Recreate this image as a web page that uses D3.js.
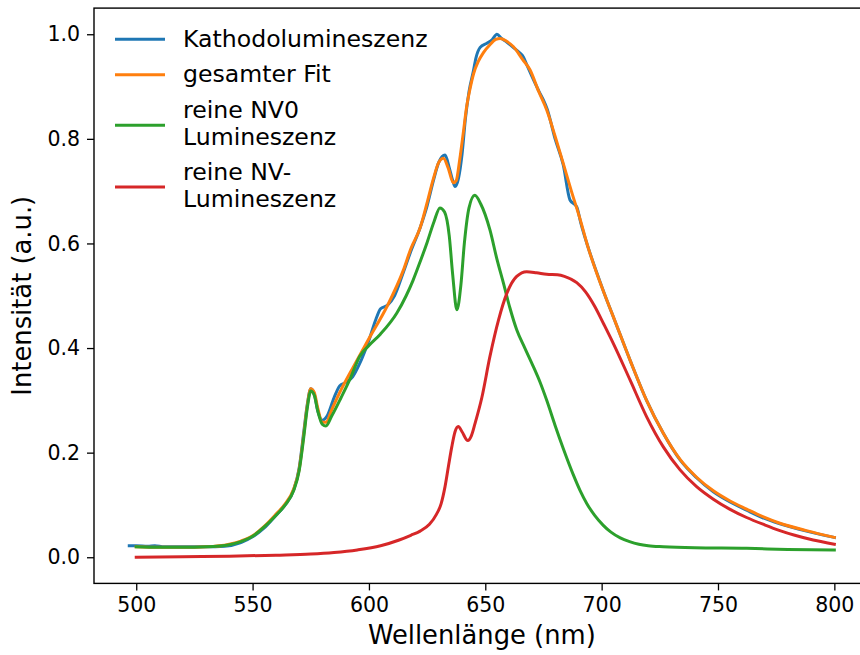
<!DOCTYPE html>
<html>
<head>
<meta charset="utf-8">
<script src="https://cdn.jsdelivr.net/npm/d3@7"></script>
<style>
  html, body { margin: 0; padding: 0; background: #fff; }
  svg { display: block; font-family: "DejaVu Sans", sans-serif; }
</style>
</head>
<body>
<svg id="chart" width="860" height="655"></svg>
<script>
// ---------- DATA ----------
const xTicks = [500, 550, 600, 650, 700, 750, 800];
const yTicks = [0.0, 0.2, 0.4, 0.6, 0.8, 1.0];
const seriesNames = ["Kathodolumineszenz", "gesamter Fit", "reine NV0\nLumineszenz", "reine NV-\nLumineszenz"];

// Kathodolumineszenz (measured data) [nm, intensity]
const kathodo = [
  [497,0.022],[500,0.022],[505,0.021],[508,0.022],[512,0.020],[520,0.020],[530,0.020],[538,0.021],
  [545,0.028],[550,0.039],[555,0.056],[560,0.080],[564,0.100],[567.6,0.128],[570,0.170],[572,0.240],
  [573.5,0.292],[575,0.322],[576.5,0.312],[578,0.280],[580,0.262],[582,0.270],[585,0.305],[587.5,0.328],
  [590,0.334],[593,0.345],[596,0.370],[600,0.415],[603,0.455],[605,0.475],[608,0.482],[611,0.500],
  [614.8,0.545],[618,0.585],[622,0.630],[625,0.672],[627.7,0.720],[630,0.755],[632.7,0.769],[634.5,0.745],
  [636,0.720],[637,0.709],[638.5,0.725],[640,0.770],[641.5,0.840],[643,0.890],[644.9,0.930],[646,0.955],
  [647.8,0.975],[650.7,0.983],[653,0.990],[655,1.000],[657,0.992],[659.2,0.985],[662,0.975],[664.9,0.964],
  [666.3,0.957],[668,0.940],[670,0.920],[673.5,0.887],[675,0.874],[676.5,0.858],[680,0.800],[683.5,0.750],
  [686.4,0.683],[689.3,0.670],[691,0.640],[694,0.595],[698,0.543],[701.5,0.500],[705,0.460],[712.2,0.377],
  [719.3,0.300],[726.5,0.237],[733.7,0.186],[740.8,0.152],[748,0.125],[755,0.106],[762.3,0.090],
  [769,0.076],[776.6,0.064],[788,0.050],[800,0.038]
];

// gesamter Fit
const fit = [
  [500,0.020],[510,0.019],[520,0.019],[530,0.020],[540,0.025],[545,0.031],[550,0.041],[555,0.059],
  [560,0.082],[564,0.102],[567.6,0.130],[570,0.168],[572,0.235],[573.5,0.290],[575,0.322],[576.5,0.315],
  [578,0.285],[580,0.258],[581.5,0.258],[584,0.282],[588,0.320],[593.3,0.364],[600.5,0.422],[607.7,0.479],
  [614.8,0.549],[618,0.590],[622,0.630],[625,0.678],[627.7,0.724],[630,0.755],[632,0.763],[634,0.745],
  [636.3,0.716],[637.5,0.720],[639,0.760],[640.5,0.810],[642,0.862],[643.5,0.897],[645,0.925],[647,0.948],
  [649.2,0.965],[652,0.980],[654.5,0.990],[656.4,0.992],[659,0.987],[662.1,0.976],[666,0.952],[669.2,0.932],
  [673,0.890],[676.4,0.855],[680,0.805],[683.5,0.753],[687,0.700],[690.7,0.647],[694,0.595],[697.9,0.543],
  [701.5,0.500],[705,0.460],[712.2,0.377],[719.3,0.300],[726.5,0.237],[733.7,0.187],[740.8,0.153],
  [748,0.127],[755,0.108],[762.3,0.092],[769,0.078],[776.6,0.065],[788,0.051],[800,0.038]
];

// reine NV0 Lumineszenz
const nv0 = [
  [500,0.020],[510,0.019],[520,0.019],[530,0.020],[540,0.024],[545,0.030],[550,0.040],[555,0.058],
  [560,0.080],[564,0.100],[567.6,0.127],[570,0.165],[572,0.230],[573.5,0.285],[575,0.318],[576.5,0.310],
  [578,0.280],[580,0.254],[581.5,0.251],[584,0.270],[588,0.305],[592,0.342],[596,0.384],[600,0.405],
  [605,0.427],[612,0.467],[616,0.500],[619,0.530],[622,0.565],[625,0.602],[628,0.642],[630.5,0.668],
  [632.5,0.660],[634.5,0.615],[636,0.540],[637.8,0.473],[639.5,0.520],[641,0.600],[643,0.668],[645.5,0.692],
  [648,0.676],[652,0.626],[655,0.570],[657.8,0.524],[660.5,0.478],[663.5,0.435],[667,0.400],[670.7,0.364],
  [673.5,0.335],[676.4,0.300],[680,0.252],[683.5,0.208],[687.8,0.158],[690.7,0.128],[693.6,0.103],
  [697,0.080],[700.7,0.061],[704,0.048],[708,0.037],[712,0.030],[716,0.025],[720,0.022],[726.5,0.020],
  [740,0.018],[762.3,0.017],[780,0.015],[800,0.014]
];

// reine NV- Lumineszenz
const nvm = [
  [500,0.000],[520,0.001],[540,0.002],[560,0.004],[575,0.006],[585,0.009],[595,0.014],[605,0.022],
  [613,0.033],[618,0.042],[622,0.050],[626,0.063],[629,0.082],[631,0.102],[632.7,0.135],[634.2,0.175],
  [635.6,0.211],[637,0.240],[638.4,0.250],[640,0.240],[642.5,0.223],[644,0.232],[645.6,0.256],[648.5,0.305],
  [652,0.384],[655.7,0.454],[659.3,0.505],[663.5,0.537],[667.8,0.546],[672,0.544],[676.4,0.541],[681,0.540],
  [684,0.537],[689.3,0.525],[693,0.508],[697,0.480],[701,0.445],[705,0.409],[712.2,0.339],[719.3,0.269],
  [726.5,0.211],[733.7,0.167],[740.8,0.135],[748,0.111],[755,0.092],[762.3,0.076],[770,0.062],
  [776.6,0.051],[783,0.042],[790.9,0.033],[800,0.025]
];

const colors = ["#1f77b4", "#ff7f0e", "#2ca02c", "#d62728"];
const seriesData = [kathodo, fit, nv0, nvm];

// ---------- CHART ----------
(function () {
const svg = d3.select("#chart");
const pLeft = 94, pRight = 869.6, pTop = 8.1, pBottom = 583.4;

const x = d3.scaleLinear().domain([481.85, 815.15]).range([pLeft, pRight]);
const y = d3.scaleLinear().domain([-0.05, 1.05]).range([pBottom, pTop]);

svg.append("defs").append("clipPath").attr("id", "clip")
  .append("rect").attr("x", pLeft).attr("y", pTop).attr("width", pRight - pLeft).attr("height", pBottom - pTop);

const line = d3.line()
  .x(d => x(d[0]))
  .y(d => y(d[1]))
  .curve(d3.curveMonotoneX);

const plot = svg.append("g").attr("clip-path", "url(#clip)");
seriesData.forEach((s, i) => {
  plot.append("path")
    .datum(s)
    .attr("d", line)
    .attr("fill", "none")
    .attr("stroke", colors[i])
    .attr("stroke-width", 3)
    .attr("stroke-linejoin", "round")
    .attr("stroke-linecap", "square");
});

// axes
const xAxis = d3.axisBottom(x).tickValues(xTicks).tickSize(7).tickPadding(7).tickFormat(d3.format("d"));
const yAxis = d3.axisLeft(y).tickValues(yTicks).tickSize(7).tickPadding(7).tickFormat(d3.format(".1f"));

const gx = svg.append("g").attr("transform", `translate(0,${pBottom})`).call(xAxis);
const gy = svg.append("g").attr("transform", `translate(${pLeft},0)`).call(yAxis);
[gx, gy].forEach(g => {
  g.select(".domain").remove();
  g.selectAll(".tick line").attr("stroke", "#000").attr("stroke-width", 1.3);
  g.selectAll(".tick text").attr("fill", "#000").style("font-size", "20.5px").style("font-family", "DejaVu Sans");
});

// spines
svg.append("rect")
  .attr("x", pLeft).attr("y", pTop)
  .attr("width", pRight - pLeft).attr("height", pBottom - pTop)
  .attr("fill", "none").attr("stroke", "#000").attr("stroke-width", 1.4);

// axis labels
svg.append("text")
  .attr("x", (pLeft + pRight) / 2).attr("y", 644)
  .attr("text-anchor", "middle")
  .style("font-size", "25.8px")
  .attr("fill", "#000")
  .text("Wellenlänge (nm)");

svg.append("text")
  .attr("transform", `translate(30.5,${(pTop + pBottom) / 2}) rotate(-90)`)
  .attr("text-anchor", "middle")
  .style("font-size", "25.8px")
  .attr("fill", "#000")
  .text("Intensität (a.u.)");

// legend
const legendRows = [
  { lineY: 39.3, baselines: [47.3] },
  { lineY: 74.7, baselines: [82.3] },
  { lineY: 125.3, baselines: [118.3, 145.0] },
  { lineY: 187.0, baselines: [180.0, 206.7] }
];
const lg = svg.append("g");
seriesNames.forEach((name, i) => {
  const r = legendRows[i];
  lg.append("line")
    .attr("x1", 115).attr("x2", 165)
    .attr("y1", r.lineY).attr("y2", r.lineY)
    .attr("stroke", colors[i]).attr("stroke-width", 3);
  name.split("\n").forEach((t, k) => {
    lg.append("text")
      .attr("x", 183).attr("y", r.baselines[k])
      .style("font-size", "23.6px")
      .attr("fill", "#000")
      .text(t);
  });
});
})();
</script>
</body>
</html>
